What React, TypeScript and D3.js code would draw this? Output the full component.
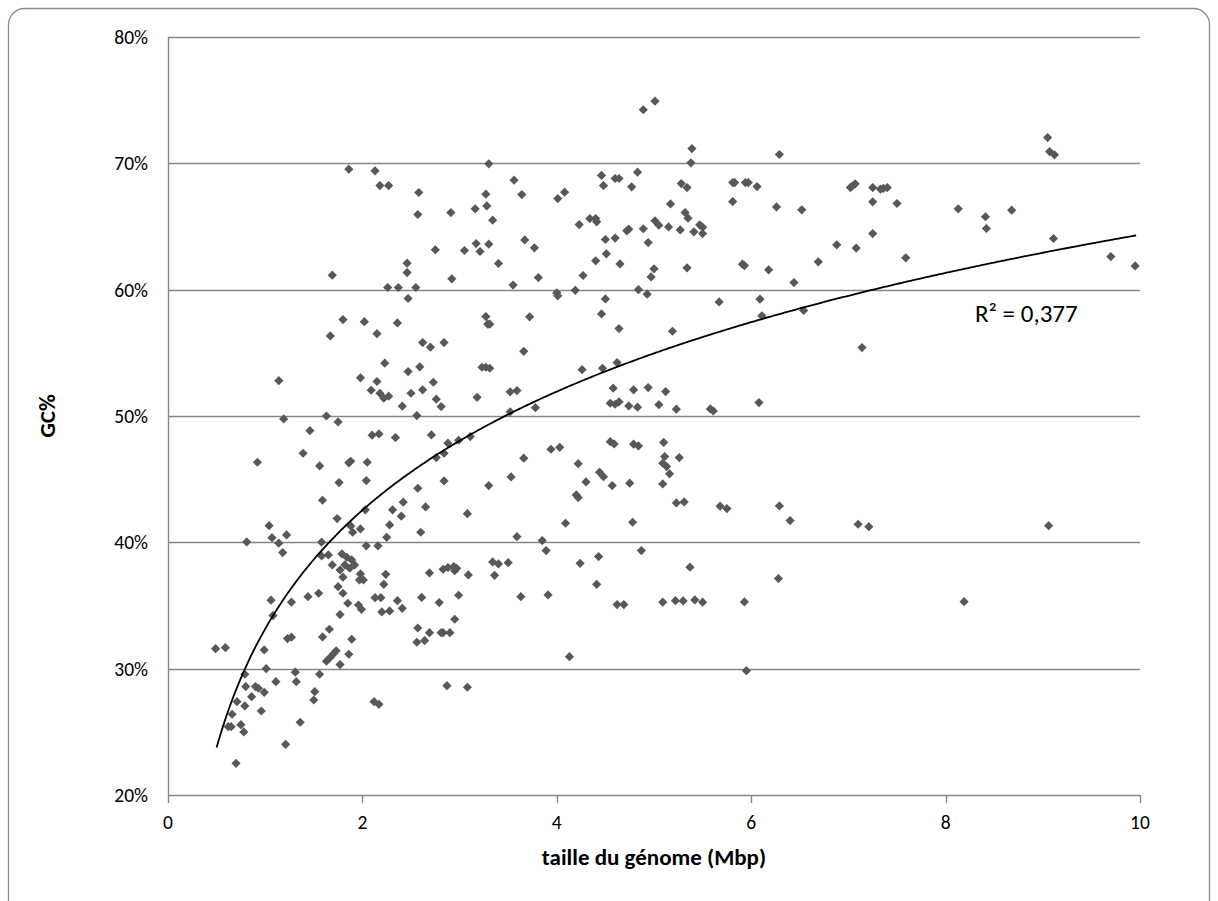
import { useRef, useEffect } from 'react'
import * as d3 from 'd3'

// genome size (Mbp), GC %
const points: [number, number][] = [
  [1.86, 69.54], [2.13, 69.41], [2.18, 68.24], [2.27, 68.24], [2.46, 62.1], [2.46, 61.35], [1.69, 61.15], [2.26, 60.17], [2.37, 60.17],
  [4.89, 74.24], [5.01, 74.92], [3.3, 69.96], [3.56, 68.67], [2.58, 67.69], [3.64, 67.53], [3.27, 67.56], [3.28, 66.63], [3.16, 66.4],
  [2.57, 65.95], [2.91, 66.1], [3.34, 65.5], [4.01, 67.21], [4.08, 67.72], [4.46, 69.04], [4.48, 68.24], [4.6, 68.8], [4.64, 68.8],
  [4.77, 68.14], [4.83, 69.3], [4.23, 65.15], [4.34, 65.63], [4.4, 65.63], [4.41, 65.37], [4.74, 64.79], [4.72, 64.66], [4.89, 64.82],
  [5.01, 65.45], [5.05, 65.1], [4.94, 63.73], [4.5, 63.97], [4.6, 64.08], [4.51, 62.84], [4.4, 62.28], [4.65, 62.04], [5.0, 61.65],
  [4.97, 61.01], [4.27, 61.12], [4.84, 60.0], [3.67, 63.94], [3.77, 63.31], [3.17, 63.65], [3.3, 63.6], [3.21, 63.02], [3.05, 63.1],
  [2.75, 63.15], [3.4, 62.07], [2.92, 60.86], [3.55, 60.36], [3.81, 60.96], [4.0, 59.75], [4.19, 59.95], [2.55, 60.17],
  [5.39, 71.17], [5.38, 70.04], [6.29, 70.7], [5.28, 68.4], [5.34, 68.08], [5.17, 66.79], [5.81, 68.48], [5.83, 68.48], [5.94, 68.48],
  [5.97, 68.48], [6.06, 68.16], [5.81, 66.97], [6.26, 66.55], [6.52, 66.32], [5.32, 66.1], [5.35, 65.66], [5.15, 64.97],
  [5.27, 64.73], [5.41, 64.58], [5.47, 65.13], [5.5, 64.95], [5.5, 64.44], [5.34, 61.73], [5.91, 62.02], [5.93, 61.91], [6.18, 61.57],
  [6.44, 60.56], [6.69, 62.2], [6.88, 63.55], [7.08, 63.29], [7.25, 64.44], [7.02, 68.08], [7.07, 68.38], [7.04, 68.2], [7.25, 68.08],
  [7.33, 67.96], [7.36, 68.01], [7.4, 68.08], [7.25, 66.95], [7.5, 66.82], [7.59, 62.52],
  [9.05, 72.04], [9.07, 70.93], [9.12, 70.67], [8.13, 66.4], [8.41, 65.77], [8.42, 64.84], [8.68, 66.29], [9.11, 64.05], [9.7, 62.62],
  [9.95, 61.88],
  [2.47, 59.3], [1.8, 57.63], [2.02, 57.47], [2.36, 57.37], [1.67, 56.34], [2.15, 56.52], [1.14, 52.8], [2.23, 54.18], [2.47, 53.52],
  [1.98, 53.02], [2.15, 52.73], [2.09, 52.04], [2.18, 51.8], [2.22, 51.41], [2.27, 51.57], [2.5, 51.8], [2.41, 50.78], [1.63, 50.0],
  [1.19, 49.77], [1.75, 49.53], [1.46, 48.84], [2.1, 48.48], [2.17, 48.58], [2.34, 48.29], [1.39, 47.05], [0.92, 46.34], [1.56, 46.05],
  [1.86, 46.29], [1.88, 46.42], [2.05, 46.34], [1.76, 44.73], [2.04, 44.89], [1.59, 43.33], [2.42, 43.18], [2.03, 42.57], [2.31, 42.57],
  [2.4, 42.07], [1.74, 41.88], [2.28, 41.38], [1.88, 41.3], [1.9, 40.8], [1.98, 41.06], [2.25, 40.4], [1.04, 41.32], [1.07, 40.37],
  [1.22, 40.59], [1.14, 39.93], [0.81, 40.03], [1.58, 40.01], [2.04, 39.72], [2.16, 39.72],
  [4.01, 59.51], [4.5, 59.27], [4.93, 59.64], [4.46, 58.08], [4.64, 56.92], [3.27, 57.87], [3.29, 57.27], [3.31, 57.27],
  [3.72, 57.85], [2.62, 55.81], [2.7, 55.45], [2.84, 55.81], [3.66, 55.12], [3.23, 53.86], [3.27, 53.86], [3.31, 53.78], [2.59, 53.89],
  [2.73, 52.67], [2.62, 52.07], [2.76, 51.33], [2.81, 50.75], [3.18, 51.48], [3.52, 51.91], [3.59, 52.01], [3.52, 50.33], [3.78, 50.66],
  [4.26, 53.67], [4.47, 53.78], [4.62, 54.23], [4.58, 52.2], [4.79, 52.07], [4.94, 52.25], [4.55, 51.01], [4.6, 50.93], [4.64, 51.12],
  [4.74, 50.8], [4.83, 50.7], [5.05, 50.9], [2.56, 50.03], [2.71, 48.5], [2.88, 47.85], [2.99, 48.08], [3.11, 48.37], [2.76, 46.71],
  [2.84, 47.05], [3.66, 46.66], [3.94, 47.37], [4.03, 47.52], [4.55, 47.97], [4.59, 47.79], [4.79, 47.77], [4.84, 47.63], [4.22, 46.23],
  [4.44, 45.55], [4.48, 45.2], [4.3, 44.78], [4.57, 44.49], [4.75, 44.68], [2.84, 44.86], [2.57, 44.28], [3.3, 44.49],
  [3.53, 45.18], [4.2, 43.75], [4.22, 43.54], [2.65, 42.8], [3.08, 42.27], [4.09, 41.51], [4.78, 41.59], [2.6, 40.8], [3.59, 40.45],
  [3.85, 40.14], [3.89, 39.35], [4.87, 39.35],
  [5.67, 59.03], [6.09, 59.25], [6.11, 57.93], [6.54, 58.35], [5.19, 56.71], [7.14, 55.42], [5.12, 51.93], [5.23, 50.54],
  [5.58, 50.56], [5.61, 50.4], [6.08, 51.06], [5.1, 47.91], [5.11, 46.79], [5.09, 46.26], [5.13, 46.0], [5.16, 45.42], [5.09, 44.62],
  [5.26, 46.71], [5.23, 43.12], [5.31, 43.2], [5.68, 42.86], [5.75, 42.67], [6.29, 42.88], [6.4, 41.72], [7.1, 41.43], [7.21, 41.24],
  [9.06, 41.32],
  [1.18, 39.19], [1.58, 38.92], [1.65, 39.0], [1.69, 38.21], [1.79, 39.08], [1.84, 38.82], [1.89, 38.61], [1.92, 38.21], [1.82, 38.21],
  [1.77, 37.81], [1.87, 37.95], [1.98, 37.5], [2.01, 37.02], [1.97, 37.02], [1.8, 37.24], [2.24, 37.47], [2.22, 36.68], [1.75, 36.49],
  [1.8, 35.97], [1.55, 35.97], [1.44, 35.7], [1.27, 35.26], [1.06, 35.42], [1.08, 34.2], [1.85, 35.18], [1.77, 34.28], [1.96, 35.04],
  [1.99, 34.7], [2.13, 35.62], [2.19, 35.62], [2.2, 34.49], [2.28, 34.57], [2.36, 35.38], [2.41, 34.78], [1.66, 33.12], [1.59, 32.51],
  [1.89, 32.33], [1.23, 32.38], [1.27, 32.49], [1.73, 31.42], [1.7, 31.16], [1.67, 30.9], [1.63, 30.59], [1.86, 31.14], [1.77, 30.32],
  [0.49, 31.58], [0.59, 31.66], [0.99, 31.48], [1.01, 30.0], [0.79, 29.56], [1.31, 29.72], [1.32, 28.97], [1.56, 29.56], [1.11, 28.97],
  [0.8, 28.58], [0.9, 28.58], [0.93, 28.45], [0.99, 28.13], [0.86, 27.78], [1.51, 28.18], [1.5, 27.52], [0.71, 27.39], [0.79, 27.05],
  [0.96, 26.65], [0.66, 26.39], [0.62, 25.41], [0.65, 25.41], [0.75, 25.57], [0.78, 24.99], [1.36, 25.76], [1.21, 24.01], [0.7, 22.51],
  [2.12, 27.39], [2.17, 27.18],
  [4.24, 38.34], [4.43, 38.87], [3.34, 38.45], [3.4, 38.29], [3.5, 38.39], [2.69, 37.58], [2.83, 37.87], [2.88, 38.0],
  [2.94, 38.08], [2.97, 37.95], [2.95, 37.76], [3.09, 37.42], [3.36, 37.39], [2.61, 35.64], [2.79, 35.23], [2.99, 35.81], [3.63, 35.7],
  [3.91, 35.84], [4.41, 36.68], [4.62, 35.07], [4.69, 35.07], [2.95, 33.91], [2.57, 33.22], [2.69, 32.85], [2.56, 32.09], [2.64, 32.22],
  [2.81, 32.85], [2.83, 32.85], [2.9, 32.85], [4.13, 30.95], [2.87, 28.65], [3.08, 28.53],
  [5.37, 38.03], [6.28, 37.13], [5.09, 35.26], [5.22, 35.38], [5.3, 35.36], [5.42, 35.44], [5.5, 35.26], [5.93, 35.28], [5.95, 29.84],
  [8.19, 35.3],
]

const xTicks = [0, 2, 4, 6, 8, 10]
const yTicks = [20, 30, 40, 50, 60, 70, 80]

// logarithmic trendline: y = a ln(x) + b
const trendA = 13.55
const trendB = 33.15
const trendRange = [0.5, 9.96]
const r2Label = 'R² = 0,377'

const font = 'Carlito, Calibri, Lato, sans-serif'

export default function App() {
  const ref = useRef<SVGSVGElement>(null)

  useEffect(() => {
    document.body.style.margin = '0'
    const svg = d3.select(ref.current)
    svg.selectAll('*').remove()

    const x = d3.scaleLinear().domain([0, 10]).range([168, 1140])
    const y = d3.scaleLinear().domain([20, 80]).range([795, 37])

    svg
      .append('rect')
      .attr('x', 8.5)
      .attr('y', 8.5)
      .attr('width', 1201)
      .attr('height', 910)
      .attr('rx', 16)
      .style('fill', '#fff')
      .style('stroke', '#8c8c8c')
      .style('stroke-width', 1.3)

    // grid
    svg
      .append('g')
      .selectAll('line')
      .data(yTicks.slice(1))
      .join('line')
      .attr('x1', x(0))
      .attr('x2', x(10))
      .attr('y1', (d) => Math.round(y(d)) + 0.5)
      .attr('y2', (d) => Math.round(y(d)) + 0.5)
      .style('stroke', '#868686')
      .style('stroke-width', 1.3)

    // axes
    svg
      .append('line')
      .attr('x1', x(0) + 0.5)
      .attr('x2', x(0) + 0.5)
      .attr('y1', y(80))
      .attr('y2', y(20))
      .style('stroke', '#868686')
      .style('stroke-width', 1.4)
    svg
      .append('line')
      .attr('x1', x(0))
      .attr('x2', x(10))
      .attr('y1', y(20) + 0.5)
      .attr('y2', y(20) + 0.5)
      .style('stroke', '#868686')
      .style('stroke-width', 1.4)
    svg
      .append('g')
      .selectAll('line')
      .data(xTicks)
      .join('line')
      .attr('x1', (d) => Math.round(x(d)) + 0.5)
      .attr('x2', (d) => Math.round(x(d)) + 0.5)
      .attr('y1', y(20))
      .attr('y2', y(20) + 8)
      .style('stroke', '#868686')
      .style('stroke-width', 1.4)

    svg
      .append('g')
      .selectAll('text')
      .data(yTicks)
      .join('text')
      .attr('x', 148)
      .attr('y', (d) => y(d) + 7)
      .attr('text-anchor', 'end')
      .style('font-family', font)
      .style('font-size', '19.5px')
      .style('fill', '#000')
      .text((d) => d + '%')

    svg
      .append('g')
      .selectAll('text')
      .data(xTicks)
      .join('text')
      .attr('x', (d) => x(d))
      .attr('y', 829)
      .attr('text-anchor', 'middle')
      .style('font-family', font)
      .style('font-size', '19.5px')
      .style('fill', '#000')
      .text((d) => d)

    svg
      .append('text')
      .attr('transform', `translate(55,${y(50)}) rotate(-90)`)
      .attr('text-anchor', 'middle')
      .style('font-family', font)
      .style('font-size', '23px')
      .style('font-weight', 'bold')
      .text('GC%')

    svg
      .append('text')
      .attr('x', 654)
      .attr('y', 865)
      .attr('text-anchor', 'middle')
      .style('font-family', font)
      .style('font-size', '23px')
      .style('font-weight', 'bold')
      .text('taille du génome (Mbp)')

    // points
    const diamond = 'M0,-4.6L4.6,0L0,4.6L-4.6,0Z'
    svg
      .append('g')
      .selectAll('path')
      .data(points)
      .join('path')
      .attr('transform', (d) => `translate(${x(d[0])},${y(d[1])})`)
      .attr('d', diamond)
      .style('fill', '#585858')

    // trendline
    const xs = d3.range(trendRange[0], trendRange[1], 0.02).concat([trendRange[1]])
    const line = d3
      .line<number>()
      .x((d) => x(d))
      .y((d) => y(trendA * Math.log(d) + trendB))
    svg
      .append('path')
      .datum(xs)
      .attr('d', line)
      .style('fill', 'none')
      .style('stroke', '#000')
      .style('stroke-width', 1.8)

    svg
      .append('text')
      .attr('x', 975)
      .attr('y', 322)
      .style('font-family', font)
      .style('font-size', '25px')
      .text(r2Label)
  }, [])

  return <svg ref={ref} width={1218} height={901} style={{ display: 'block' }}></svg>
}
